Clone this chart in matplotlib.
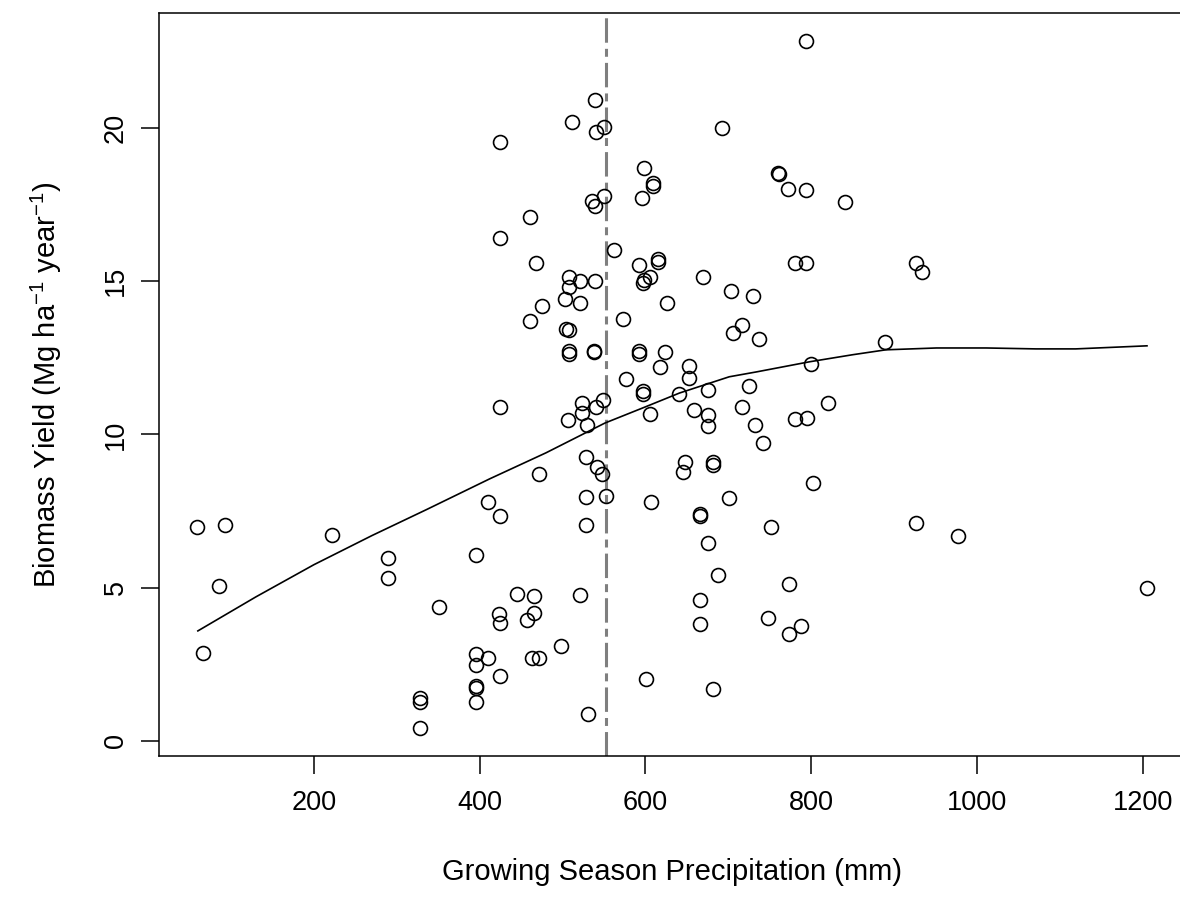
import matplotlib
matplotlib.use('Agg')
import matplotlib.pyplot as plt

# growing season precipitation (mm) and biomass yield (Mg/ha/yr)
precip = [59, 93, 85, 66, 222, 289, 289, 351, 328, 328, 328, 396, 396, 396, 410, 396,
          396, 395, 410, 424, 425, 425, 425, 423, 425, 425,
          445, 465, 465, 457, 498, 463, 472, 471.5, 461, 467.5, 475.5, 461, 502.8, 507.6,
          507.6, 503.6, 507.6, 507.6, 507.6, 507, 511, 520.5, 521, 521, 523, 523, 529,
          528.5, 528.5, 528.5, 530.5, 535.7, 538.6, 538.6, 539.8, 538.6, 537.3, 537.3, 540,
          541, 548, 549, 549.4, 549.4, 552.6,
          562, 572.6, 576.5, 592, 592, 592, 595.8, 598.8, 597.6, 598, 605.3, 597.6, 597.6,
          600.8, 605.6, 607, 609, 609, 615, 615, 617, 624, 625.7, 641, 645, 647.8, 653, 652,
          659, 666, 666, 666, 666, 669, 676, 676, 676, 676, 681, 681, 681, 687, 692,
          701, 703, 706, 716, 717, 724.5, 730, 731.7, 737, 742, 747.8, 752, 759.4, 761.4,
          772, 773.5, 773.5, 780.7, 780.7, 787.5, 794, 794, 794, 794.3, 799.6, 801.6, 820,
          841, 888.7, 926, 933, 926, 977.5, 1205]
biomass = [6.97, 7.04, 5.07, 2.88, 6.71, 5.98, 5.30, 4.38, 1.39, 1.28, 0.42, 6.06, 2.84, 2.48, 2.71, 1.79,
           1.73, 1.26, 7.79, 10.9, 19.53, 16.41, 7.35, 4.14, 3.86, 2.13,
           4.8, 4.73, 4.19, 3.93, 3.1, 2.72, 2.72, 8.71, 17.08, 15.6, 14.2, 13.7, 14.41, 15.15,
           14.82, 13.44, 13.4, 12.72, 12.63, 10.47, 20.18, 14.99, 14.3, 4.76, 11.01, 10.69, 10.31,
           9.25, 7.97, 7.05, 0.88, 17.6, 17.46, 20.91, 19.88, 14.99, 12.73, 12.68, 10.9,
           8.93, 8.71, 11.12, 20.02, 17.79, 8.0,
           16.02, 13.77, 11.82, 15.52, 12.72, 12.62, 17.7, 18.7, 14.95, 15.04, 15.13, 11.42, 11.33,
           2.02, 10.65, 7.81, 18.21, 18.1, 15.72, 15.62, 12.21, 12.7, 14.3, 11.31, 8.79, 9.11, 12.23, 11.85,
           10.8, 7.4, 7.33, 4.6, 3.82, 15.13, 11.45, 10.64, 10.28, 6.47, 9.11, 9.0, 1.68, 5.42, 20.01,
           7.92, 14.69, 13.32, 10.9, 13.57, 11.59, 14.52, 10.32, 13.12, 9.72, 4.0, 6.97, 18.52, 18.5,
           18.01, 5.12, 3.49, 15.58, 10.51, 3.76, 22.85, 17.98, 15.58, 10.55, 12.3, 8.43, 11.01,
           17.57, 13.0, 15.58, 15.3, 7.1, 6.7, 4.98]

# smoothed trend line
smooth_x = [60, 130, 200, 270, 336, 412, 480, 551, 600, 641, 701, 734, 798, 850, 890,
            951, 1011, 1071, 1119, 1205]
smooth_y = [3.59, 4.7, 5.75, 6.7, 7.55, 8.55, 9.4, 10.37, 10.9, 11.35, 11.88, 12.04, 12.37,
            12.6, 12.76, 12.82, 12.82, 12.79, 12.79, 12.89]

threshold = 552

x_ticks = [200, 400, 600, 800, 1000, 1200]
y_ticks = [0, 5, 10, 15, 20]

plt.rcParams['font.family'] = ['Liberation Sans', 'DejaVu Sans']
plt.rcParams['mathtext.fontset'] = 'custom'
plt.rcParams['mathtext.rm'] = 'Liberation Sans'
plt.rcParams['mathtext.it'] = 'Liberation Sans'
plt.rcParams['mathtext.default'] = 'regular'

fig = plt.figure(figsize=(11.8, 8.98), dpi=100)
ax = fig.add_axes([0.1348, 0.1586, 0.8694, 0.8270])

ax.plot(precip, biomass, 'o', mfc='none', mec='black', ms=10, mew=1.2, zorder=3)
ax.plot(smooth_x, smooth_y, color='black', lw=1.2, zorder=2)
ax.axvline(threshold, color='#7f7f7f', lw=2.2, dashes=(8, 2, 2.6, 2), zorder=1)

ax.set_xlim(13.2, 1250.8)
ax.set_ylim(-0.477, 23.75)
ax.set_xticks(x_ticks)
ax.set_yticks(y_ticks)

for s in ax.spines.values():
    s.set_linewidth(1.1)
ax.tick_params(axis='both', direction='out', length=13, width=1.1, labelsize=19.5)
ax.tick_params(axis='x', pad=12)
ax.tick_params(axis='y', pad=9)
for lab in ax.get_yticklabels():
    lab.set_rotation(90)
    lab.set_va('center')

ax.set_xlabel('Growing Season Precipitation (mm)', fontsize=21, labelpad=30)
ax.set_ylabel(r'Biomass Yield (Mg ha$^{-1}$ year$^{-1}$)', fontsize=21, labelpad=28)

fig.savefig('out.png', dpi=100)
